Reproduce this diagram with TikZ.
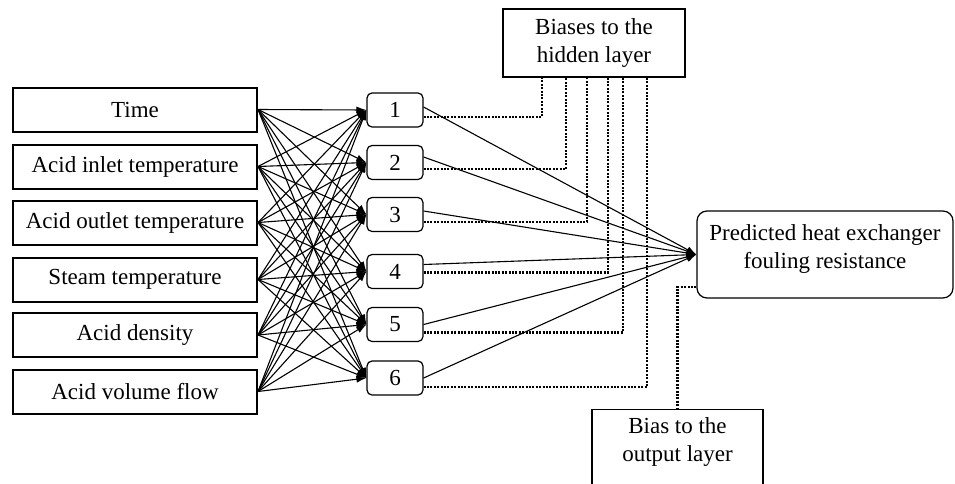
\documentclass[tikz,border=0pt]{standalone}
\usepackage{fontspec}
\setmainfont{Liberation Serif}
\usetikzlibrary{positioning, arrows.meta, calc}

\begin{document}
\begin{tikzpicture}[x=0.5pt, y=-0.5pt,
    font=\fontsize{11.5}{14}\selectfont,
    input/.style={draw, line width=1pt, minimum width=122pt, minimum height=22pt, inner sep=0pt},
    hidden/.style={draw, rounded corners=2.5pt, line width=0.6pt, minimum width=28pt, minimum height=17pt, inner sep=0pt},
    biasbox/.style={draw, line width=0.6pt, align=center, inner xsep=0pt},
    conn/.style={line width=0.55pt, -{Latex[length=5pt, width=3.5pt]}},
    biasline/.style={line width=1.1pt, dash pattern=on 1pt off 0.7pt}]
    \clip (0,0) rectangle (955,483);

    \node[input] (time) at (135, 109.5) {Time};
    \node[input] (inlet) at (135, 166.5) {Acid inlet temperature};
    \node[input] (outlet) at (135, 222.5) {Acid outlet temperature};
    \node[input] (steam) at (135, 279.5) {Steam temperature};
    \node[input] (density) at (135, 335) {Acid density};
    \node[input] (flow) at (135, 391.5) {Acid volume flow};

    \node[hidden] (h1) at (395, 110) {1};
    \node[hidden] (h2) at (395, 162.5) {2};
    \node[hidden] (h3) at (395, 214.5) {3};
    \node[hidden] (h4) at (395, 271.5) {4};
    \node[hidden] (h5) at (395, 324.5) {5};
    \node[hidden] (h6) at (395, 378) {6};

    \node[biasbox, minimum width=91pt, minimum height=34pt] (bias) at (594, 43) {Biases to the\\hidden layer};
    \node[draw, rounded corners=5pt, line width=0.6pt, align=center, text depth=7.5pt, minimum width=128pt, minimum height=43.5pt] (out) at (825, 254.5) {Predicted heat exchanger\\fouling resistance};
    \node[biasbox, anchor=north, inner ysep=4pt, minimum width=85.5pt, text depth=30pt] (biasout) at (677.5, 409) {Bias to the\\output layer};

    % inputs to hidden layer
    \foreach \a in {time, inlet, outlet, steam, density, flow}
        \foreach \b in {1,...,6}
            \draw[conn] (\a.east) -- (h\b.west);

    % hidden layer to output, with biases
    \foreach \i/\s/\d/\bx in {1/-3/7/542, 2/-5.5/6.5/566, 3/-3.5/7.5/587, 4/-7/1/608, 5/0/8/623, 6/0/9/647} {
        \draw[conn] ($(h\i.east)+(0,\s)$) -- (out.west);
        \draw[biasline] ($(h\i.east)+(0,\d)$) -| (\bx,0 |- bias.south);
    }
    \draw[biasline] ($(out.west)+(0,32.5)$) -| (biasout.north);
\end{tikzpicture}
\end{document}
